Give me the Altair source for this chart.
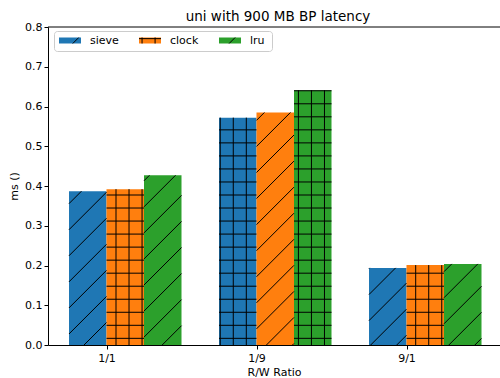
import altair as alt
import numpy as np
import pandas as pd

# ---- data -------------------------------------------------------------
ratios = ["1/1", "1/9", "9/1"]
policies = ["sieve", "clock", "lru"]
colors = ["#1f77b4", "#ff7f0e", "#2ca02c"]
sieve = [0.387, 0.572, 0.194]
clock = [0.392, 0.585, 0.201]
lru = [0.427, 0.641, 0.204]
values = {"sieve": sieve, "clock": clock, "lru": lru}
y_ticks = [0.0, 0.1, 0.2, 0.3, 0.4, 0.5, 0.6, 0.7, 0.8]

# ---- layout -----------------------------------------------------------
PAD_L, PAD_T, PAD_B = 48, 27, 33
W, H = 452, 318
BAR_W = 0.25
X_MIN = -0.39
X_MAX = X_MIN + W / 150.0
Y_MAX = 0.8
FONT = "DejaVu Sans"

# hatch pattern, fixed to the page grid (pixels)
GRID = 13.03          # spacing of '+' lines
V_PHASE = 11.76
H_PHASE = 12.58
DIAG = 26.06          # horizontal spacing of '/' lines
D_PHASE = 12.04


def px_x(v):
    return PAD_L + (v - X_MIN) / (X_MAX - X_MIN) * W


def px_y(v):
    return PAD_T + H - v / Y_MAX * H


def data_x(p):
    return X_MIN + (p - PAD_L) / W * (X_MAX - X_MIN)


def data_y(p):
    return (PAD_T + H - p) / H * Y_MAX


def hatch(kind, x0, x1, yt, yb):
    """Line segments of a hatch pattern clipped to a pixel rectangle."""
    segs = []
    if kind == "+":
        k = np.ceil((x0 - V_PHASE) / GRID)
        while V_PHASE + k * GRID < x1:
            xs = V_PHASE + k * GRID
            segs.append((xs, yt, xs, yb))
            k += 1
        k = np.ceil((yt - H_PHASE) / GRID)
        while H_PHASE + k * GRID < yb:
            ys = H_PHASE + k * GRID
            segs.append((x0, ys, x1, ys))
            k += 1
    else:
        k = np.ceil((x0 + yt - D_PHASE) / DIAG)
        while D_PHASE + k * DIAG < x1 + yb:
            c = D_PHASE + k * DIAG
            xa, xb = max(x0, c - yb), min(x1, c - yt)
            if xb > xa:
                segs.append((xa, c - xa, xb, c - xb))
            k += 1
    return segs


# ---- bars and their hatching -----------------------------------------
bar_rows, hatch_rows = [], []
for si, pol in enumerate(policies):
    for gi, r in enumerate(ratios):
        v = values[pol][gi]
        left = gi + (si - 1) * BAR_W
        right = left + BAR_W
        bar_rows.append({"policy": pol, "ratio": r, "x": left, "x2": right,
                         "ms": v, "base": 0.0})
        kind = "/" if (si + gi) % 2 == 0 else "+"
        for a, b, c, d in hatch(kind, px_x(left), px_x(right), px_y(v), px_y(0)):
            hatch_rows.append({"x": data_x(a), "ms": data_y(b),
                               "x2": data_x(c), "y2": data_y(d)})

bars_df = pd.DataFrame(bar_rows)
hatch_df = pd.DataFrame(hatch_rows)

xscale = alt.Scale(domain=[X_MIN, X_MAX], nice=False, zero=False)
yscale = alt.Scale(domain=[0, Y_MAX], nice=False)

label_expr = "[" + ",".join(f"'{r}'" for r in ratios) + "][datum.value]"

x_axis = alt.Axis(values=[0, 1, 2], labelExpr=label_expr, title="R/W Ratio",
                  grid=False, tickSize=4, labelPadding=3, titlePadding=3)
y_axis = alt.Axis(values=y_ticks, format=".1f", title="ms ()", grid=False,
                  tickSize=4, labelPadding=2, titlePadding=5,
                  labelOverlap=False, labelBound=False, labelFlush=False)

bars = alt.Chart(bars_df).mark_rect().encode(
    x=alt.X("x:Q", scale=xscale, axis=x_axis),
    x2="x2:Q",
    y=alt.Y("ms:Q", scale=yscale, axis=y_axis),
    y2="base:Q",
    color=alt.Color("policy:N", scale=alt.Scale(domain=policies, range=colors),
                    legend=None),
)

hatches = alt.Chart(hatch_df).mark_rule(color="black", strokeWidth=1).encode(
    x=alt.X("x:Q", scale=xscale, axis=x_axis), x2="x2:Q",
    y=alt.Y("ms:Q", scale=yscale, axis=y_axis), y2="y2:Q",
)

top_spine = alt.Chart(pd.DataFrame({"k": [0]})).mark_rule(
    color="black", strokeWidth=1
).encode(x=alt.value(0), x2=alt.value(W), y=alt.value(0))

# ---- legend (pixel positions inside the plot area) -------------------
LEG_X0, LEG_Y0, LEG_X1, LEG_Y1 = 54.5, 31.5, 272.5, 51.5
PATCH_X = [59, 139, 219]
PATCH_W, PATCH_Y0, PATCH_Y1 = 22, 37.5, 43.5
TEXT_DX = 9

frame = alt.Chart(pd.DataFrame({"k": [0]})).mark_rect(
    cornerRadius=3, fill="white", fillOpacity=0.8, stroke="#cccccc",
    strokeWidth=1
).encode(x=alt.value(LEG_X0 - PAD_L), x2=alt.value(LEG_X1 - PAD_L),
         y=alt.value(LEG_Y0 - PAD_T), y2=alt.value(LEG_Y1 - PAD_T))

patch_rows, ptext_rows, phatch_rows = [], [], []
for si, pol in enumerate(policies):
    x0 = PATCH_X[si]
    x1 = x0 + PATCH_W
    patch_rows.append({"policy": pol, "lx": x0 - PAD_L, "lx2": x1 - PAD_L,
                       "ly": PATCH_Y0 - PAD_T, "ly2": PATCH_Y1 - PAD_T})
    ptext_rows.append({"label": pol, "lx": x1 + TEXT_DX - PAD_L,
                       "ly": (PATCH_Y0 + PATCH_Y1) / 2 - PAD_T})
    kind = "/" if si % 2 == 0 else "+"
    for a, b, c, d in hatch(kind, x0, x1, PATCH_Y0, PATCH_Y1):
        phatch_rows.append({"lx": a - PAD_L, "ly": b - PAD_T,
                            "lx2": c - PAD_L, "ly2": d - PAD_T})

leg_patches = alt.Chart(pd.DataFrame(patch_rows)).mark_rect().encode(
    x=alt.X("lx:Q", scale=None), x2="lx2:Q",
    y=alt.Y("ly:Q", scale=None), y2="ly2:Q",
    color=alt.Color("policy:N", scale=alt.Scale(domain=policies, range=colors),
                    legend=None),
)
leg_hatch = alt.Chart(pd.DataFrame(phatch_rows)).mark_rule(
    color="black", strokeWidth=1
).encode(
    x=alt.X("lx:Q", scale=None), x2="lx2:Q",
    y=alt.Y("ly:Q", scale=None), y2="ly2:Q",
)
leg_text = alt.Chart(pd.DataFrame(ptext_rows)).mark_text(
    align="left", baseline="middle", font=FONT, fontSize=11, color="black"
).encode(
    x=alt.X("lx:Q", scale=None), y=alt.Y("ly:Q", scale=None), text="label:N"
)

chart = alt.layer(
    bars, hatches, top_spine, frame, leg_patches, leg_hatch, leg_text
).resolve_scale(
    color="shared"
).properties(
    width=W, height=H,
    title=alt.TitleParams("uni with 900 MB BP latency", font=FONT,
                          fontSize=13.5, fontWeight="normal", color="black",
                          anchor="middle", offset=-2, dx=4),
    autosize=alt.AutoSizeParams(type="none"),
    padding={"left": PAD_L, "top": PAD_T, "right": 0, "bottom": PAD_B},
).configure_view(
    stroke=None
).configure_axis(
    labelFont=FONT, titleFont=FONT, labelFontSize=11, titleFontSize=11,
    titleFontWeight="normal", labelColor="black", titleColor="black",
    domainColor="black", tickColor="black", domainWidth=1, tickWidth=1,
)

chart.save("out.html", embed_options={"renderer": "svg", "actions": False})
